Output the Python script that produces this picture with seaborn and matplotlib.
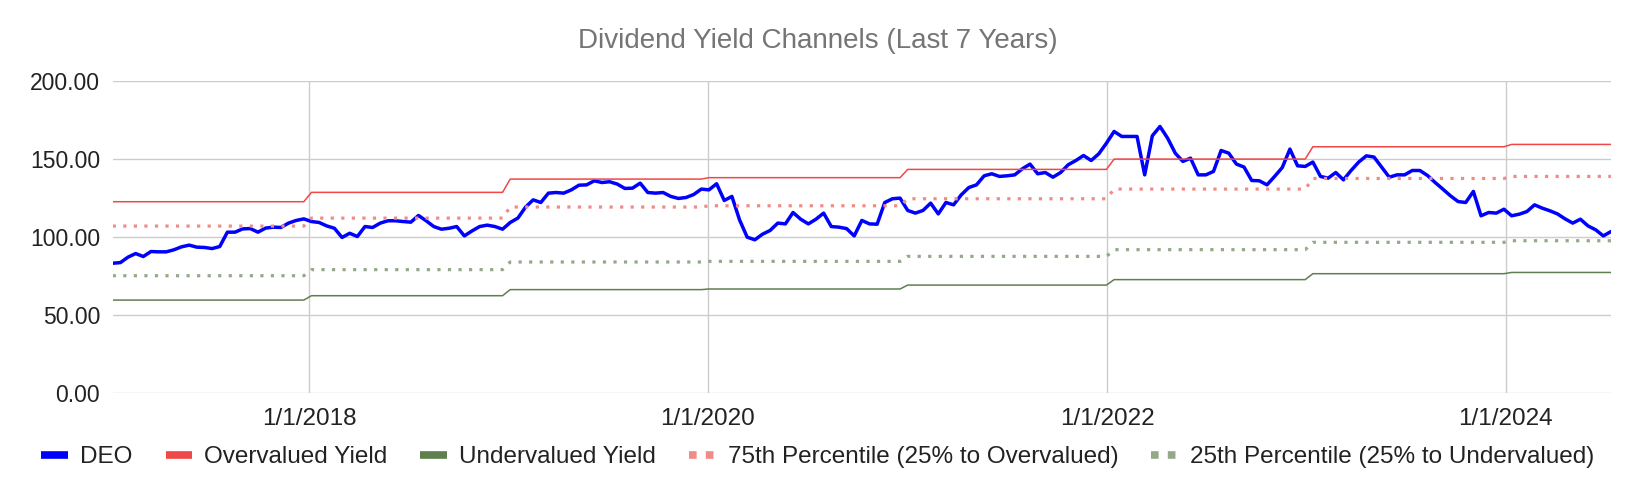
import numpy as np
import pandas as pd
import matplotlib
matplotlib.use("Agg")
import matplotlib.pyplot as plt
from matplotlib.lines import Line2D
from matplotlib.ticker import FuncFormatter
import seaborn as sns

# ---- data (biweekly samples) ----
START_DATE = "2017-01-06"
STEP = "14D"

deo = [
    83.1, 83.5, 87.0, 89.3, 87.4, 90.6, 90.4, 90.4, 91.7, 93.6, 94.7, 93.4, 93.2,
    92.5, 93.8, 103.0, 103.0, 105.1, 105.3, 103.0, 105.6, 106.2, 106.0, 108.8, 110.5,
    111.5, 109.8,
    109.2, 107.0, 105.5, 99.6, 102.3, 100.2, 106.6, 106.0, 108.8, 110.3, 110.3, 109.8,
    109.4, 113.7, 110.3, 106.6, 104.9, 105.5, 106.6, 100.6, 103.8, 106.6, 107.5, 106.6,
    104.9, 109.2, 112.0, 119.0, 123.7, 122.0, 128.0, 128.4, 128.0, 130.1, 133.1, 133.3,
    135.9, 134.8, 135.3, 133.8, 131.0, 131.2, 134.4, 128.4, 128.0, 128.4, 125.9, 124.6,
    125.2, 127.1, 130.6, 130.1,
    134.0, 123.3, 125.9, 110.9, 99.8, 98.1, 101.7, 104.1, 108.8, 108.3, 115.6, 111.3,
    108.3, 111.3, 115.2, 106.6, 106.2, 105.3, 100.6, 110.5, 108.3, 108.1, 122.0, 124.4,
    124.8, 116.9,
    115.2, 116.9, 121.6, 114.7, 122.0, 120.5, 126.9, 131.6, 133.3, 139.1, 140.4, 138.7,
    139.1, 139.7, 143.6, 146.6, 140.4, 141.2, 138.2, 141.2, 146.2, 148.9, 152.1, 148.9,
    153.2, 160.0,
    167.5, 164.3, 164.3, 164.3, 139.7, 164.7, 170.7, 163.2, 153.6, 148.3, 150.4, 139.7,
    139.7, 141.9, 155.3, 153.6, 146.6, 144.7, 136.1, 135.9, 133.3, 138.7, 144.4, 156.2,
    145.5, 145.1,
    147.9, 138.7, 137.6, 141.2, 136.5, 142.5, 147.9, 151.9, 151.1, 144.7, 138.2, 139.7,
    139.7, 142.5, 142.5, 139.3, 134.8, 130.6, 126.3, 122.6, 122.0, 129.1, 113.5, 115.6,
    115.2, 117.7,
    113.5, 114.5, 116.2, 120.5, 118.4, 116.7, 114.7, 111.5, 108.8, 111.3, 107.0, 104.5,
    100.6, 103.4,
]

# yearly channel levels
years = [2017, 2018, 2019, 2020, 2021, 2022, 2023, 2024]
overvalued = [122.5, 128.5, 137.0, 137.9, 143.2, 149.8, 157.7, 159.2]
pct75 = [106.9, 112.0, 119.1, 119.9, 124.4, 130.6, 137.4, 138.7]
pct25 = [75.1, 79.0, 83.9, 84.3, 87.5, 91.8, 96.5, 97.5]
undervalued = [59.5, 62.3, 66.2, 66.6, 69.1, 72.6, 76.4, 77.2]

x_ticks = ["2018-01-01", "2020-01-01", "2022-01-01", "2024-01-01"]
y_ticks = [0, 50, 100, 150, 200]

TITLE = "Dividend Yield Channels (Last 7 Years)"

# ---- build frame ----
dates = pd.date_range(START_DATE, periods=len(deo), freq=STEP)
df = pd.DataFrame({"Date": dates, "DEO": deo})
for name, levels in [("Overvalued", overvalued), ("P75", pct75),
                     ("P25", pct25), ("Undervalued", undervalued)]:
    lookup = dict(zip(years, levels))
    df[name] = [lookup[d.year] for d in df["Date"]]

# ---- style ----
sns.set_theme(style="white")
plt.rcParams["font.family"] = ["Liberation Sans", "DejaVu Sans"]

C_DEO = "#0000ff"
C_OVER = "#f04848"
C_UNDER = "#5f7f4f"
C_P75 = "#f28b88"
C_P25 = "#93a98a"
dots = (0, (1.0, 2.3))

fig = plt.figure(figsize=(16.36, 4.94), dpi=100)
ax = fig.add_axes([0.0689, 0.2045, 0.9158, 0.6321])

sns.lineplot(data=df, x="Date", y="DEO", ax=ax, color=C_DEO, lw=2.5, legend=False, zorder=3)
sns.lineplot(data=df, x="Date", y="Overvalued", ax=ax, color=C_OVER, lw=1.1, legend=False, zorder=4)
sns.lineplot(data=df, x="Date", y="Undervalued", ax=ax, color=C_UNDER, lw=1.1, legend=False, zorder=4)
sns.lineplot(data=df, x="Date", y="P75", ax=ax, color=C_P75, lw=2.3, ls=dots, legend=False, zorder=4)
sns.lineplot(data=df, x="Date", y="P25", ax=ax, color=C_P25, lw=2.3, ls=dots, legend=False, zorder=4)
for ln in ax.get_lines()[-2:]:
    ln.set_dash_capstyle("butt")

ax.set_xlim(dates[0], dates[-1])
ax.set_ylim(0, 200)
ax.set_yticks(y_ticks)
ax.yaxis.set_major_formatter(FuncFormatter(lambda v, p: f"{v:.2f}"))
tick_dates = pd.to_datetime(x_ticks)
ax.set_xticks(tick_dates)
ax.set_xticklabels([f"{d.month}/{d.day}/{d.year}" for d in tick_dates])
ax.set_xlabel("")
ax.set_ylabel("")

ax.grid(True, color="#cccccc", lw=1.0)
ax.set_axisbelow(True)
for s in ax.spines.values():
    s.set_visible(False)
ax.tick_params(axis="both", length=0, colors="#222222")
ax.tick_params(axis="x", pad=11, labelsize=17.5)
ax.tick_params(axis="y", pad=9, labelsize=16.5)

fig.text(0.5, 1 - 41 / 494, TITLE, ha="center", va="center", fontsize=20, color="#757575")

handles = [
    Line2D([], [], color=C_DEO, lw=5.5, solid_capstyle="butt"),
    Line2D([], [], color=C_OVER, lw=5.5, solid_capstyle="butt"),
    Line2D([], [], color=C_UNDER, lw=5.5, solid_capstyle="butt"),
    Line2D([], [], color=C_P75, lw=5.5, ls=(0, (1, 1.2)), dash_capstyle="butt"),
    Line2D([], [], color=C_P25, lw=5.5, ls=(0, (1, 1.2)), dash_capstyle="butt"),
]
labels = ["DEO", "Overvalued Yield", "Undervalued Yield",
          "75th Percentile (25% to Overvalued)", "25th Percentile (25% to Undervalued)"]
fig.legend(handles, labels, loc="center", bbox_to_anchor=(0.5, 1 - 457 / 494), ncol=5,
           frameon=False, fontsize=17.5, handlelength=1.1, handletextpad=0.5,
           columnspacing=1.35, labelcolor="#222222")

fig.savefig("out.png", dpi=100)
